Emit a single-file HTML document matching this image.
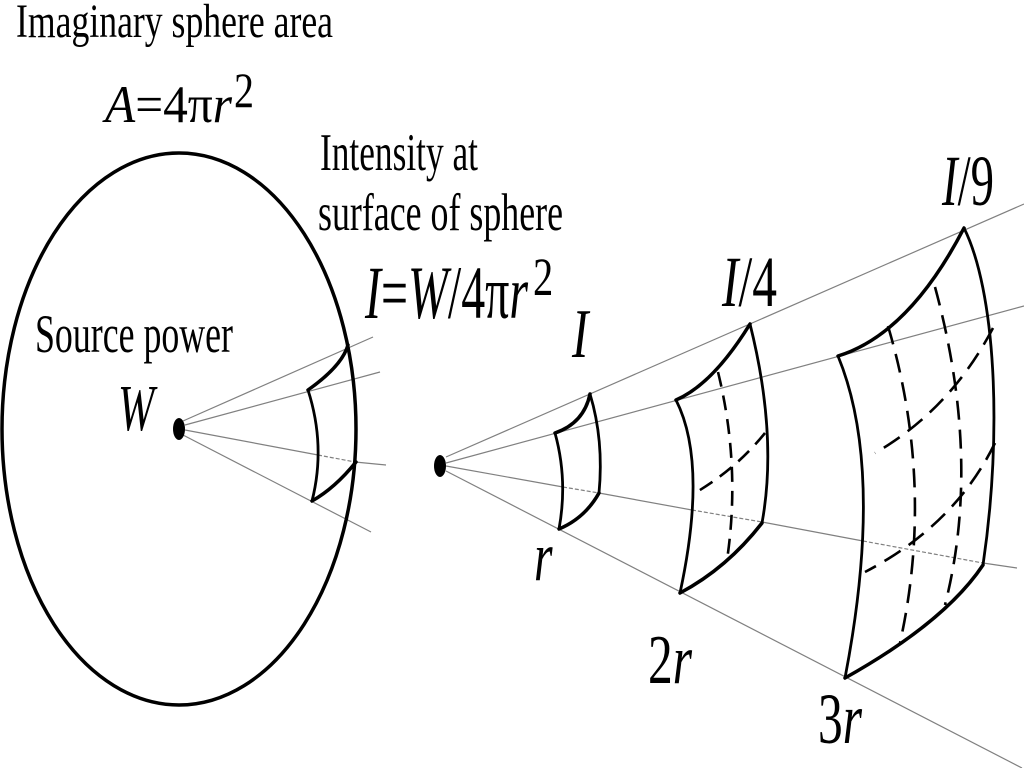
<!DOCTYPE html>
<html>
<head>
<meta charset="utf-8">
<style>
  html, body { margin: 0; padding: 0; background: #fff; }
  body { width: 1024px; height: 768px; overflow: hidden; }
  svg { display: block; }
  text { font-family: "Liberation Serif", "DejaVu Serif", serif; fill: #000; }
  .it { font-style: italic; }
</style>
</head>
<body>
<svg width="1024" height="768" viewBox="0 0 1024 768" xmlns="http://www.w3.org/2000/svg">
  <rect width="1024" height="768" fill="#fff"/>

  <!-- ===== Left: imaginary sphere ===== -->
  <g stroke="#808080" stroke-width="1.2" fill="none">
    <line x1="183" y1="421" x2="373" y2="337"/>
    <line x1="185" y1="425" x2="380" y2="372"/>
    <line x1="185" y1="430" x2="318" y2="455"/>
    <line x1="318" y1="455" x2="355" y2="462" stroke-dasharray="4 2"/>
    <line x1="355" y1="462" x2="386" y2="465"/>
    <line x1="183" y1="435" x2="371" y2="532"/>
  </g>
  <ellipse cx="179" cy="429" rx="177" ry="276" fill="none" stroke="#000" stroke-width="3.5"/>
  <ellipse cx="179" cy="429" rx="6" ry="11" fill="#000"/>
  <g fill="none" stroke="#000" stroke-linecap="round">
    <path d="M308,390 Q342,366 348,345" stroke-width="3.5"/>
    <path d="M308,390 Q326,446 312,501" stroke-width="2.8"/>
    <path d="M312,501 Q335,488 356,462" stroke-width="3.5"/>
  </g>

  <!-- ===== Right: fan ===== -->
  <g stroke="#808080" stroke-width="1.2" fill="none">
    <line x1="446" y1="457" x2="1024" y2="204"/>
    <line x1="446" y1="463" x2="1024" y2="306"/>
    <line x1="446" y1="466" x2="563" y2="487"/>
    <line x1="563" y1="487" x2="599" y2="493" stroke-dasharray="4 2"/>
    <line x1="599" y1="493" x2="692" y2="510"/>
    <line x1="692" y1="510" x2="762" y2="522" stroke-dasharray="4 2"/>
    <line x1="762" y1="522" x2="863" y2="541"/>
    <line x1="863" y1="541" x2="983" y2="563" stroke-dasharray="4 2"/>
    <line x1="983" y1="563" x2="1017" y2="568"/>
    <line x1="446" y1="471" x2="1022" y2="768"/>
  </g>
  <ellipse cx="440" cy="466" rx="6" ry="11" fill="#000"/>

  <!-- patch I (r) -->
  <g fill="none" stroke="#000" stroke-linecap="round" stroke-linejoin="round">
    <path d="M555,433 Q584,423 590,394" stroke-width="3.5"/>
    <path d="M590,394 Q604,440 599,493" stroke-width="2.8"/>
    <path d="M599,493 Q585,518 559,529" stroke-width="3.5"/>
    <path d="M559,529 Q568,480 555,433" stroke-width="2.8"/>
  </g>

  <!-- patch I/4 (2r) -->
  <g fill="none" stroke="#000" stroke-linecap="round" stroke-linejoin="round">
    <path d="M676,400 Q713,384 750,324" stroke-width="3.5"/>
    <path d="M750,324 Q778,436 762,523" stroke-width="2.8"/>
    <path d="M762,523 Q727,568 680,593" stroke-width="3.5"/>
    <path d="M680,593 Q708,463 676,400" stroke-width="2.8"/>
  </g>
  <g fill="none" stroke="#000" stroke-width="2.6" stroke-dasharray="15 9">
    <path d="M718,372 Q741,466 727,560"/>
    <path d="M765,433 Q736,469 695,493"/>
  </g>

  <!-- patch I/9 (3r) -->
  <g fill="none" stroke="#000" stroke-linecap="round" stroke-linejoin="round">
    <path d="M838,356 Q909,334 964,228" stroke-width="3.5"/>
    <path d="M964,228 C995,290 1003,430 983,565" stroke-width="2.8"/>
    <path d="M983,565 Q945,622 845,678" stroke-width="3.5"/>
    <path d="M845,678 Q885,470 838,356" stroke-width="2.8"/>
  </g>
  <g fill="none" stroke="#000" stroke-width="2.6" stroke-dasharray="19 10">
    <path d="M888,326 Q935,485 900,643"/>
    <path d="M935,287 Q982,460 945,605"/>
    <path d="M993,328 Q950,410 875,453"/>
    <path d="M995,443 Q955,525 865,572"/>
  </g>

  <!-- ===== Text ===== -->
  <text x="16" y="37" font-size="48" textLength="317" lengthAdjust="spacingAndGlyphs">Imaginary sphere area</text>

  <text x="105" y="122" font-size="53" textLength="127" lengthAdjust="spacingAndGlyphs"><tspan class="it">A</tspan>=4π<tspan class="it">r</tspan></text>
  <text transform="translate(234,107) scale(0.8,1)" font-size="50">2</text>

  <text x="320" y="170" font-size="53" textLength="158" lengthAdjust="spacingAndGlyphs">Intensity at</text>
  <text x="318" y="230" font-size="53" textLength="245" lengthAdjust="spacingAndGlyphs">surface of sphere</text>

  <text x="365" y="318" font-size="75" textLength="163" lengthAdjust="spacingAndGlyphs"><tspan class="it">I</tspan>=<tspan class="it">W</tspan>/4π<tspan class="it">r</tspan></text>
  <text transform="translate(533,295) scale(0.75,1)" font-size="54">2</text>

  <text x="35" y="352" font-size="54" textLength="198" lengthAdjust="spacingAndGlyphs">Source power</text>
  <text transform="translate(118,430) scale(0.66,1)" font-size="66" class="it">W</text>

  <text transform="translate(572,357) scale(0.7,1)" font-size="70" class="it">I</text>
  <text x="722" y="306" font-size="72" textLength="55" lengthAdjust="spacingAndGlyphs"><tspan class="it">I</tspan>/4</text>
  <text x="942" y="205" font-size="72" textLength="52" lengthAdjust="spacingAndGlyphs"><tspan class="it">I</tspan>/9</text>

  <text transform="translate(534,580) scale(0.68,1)" font-size="70" class="it">r</text>
  <text x="648" y="683" font-size="70" textLength="44" lengthAdjust="spacingAndGlyphs">2<tspan class="it">r</tspan></text>
  <text x="818" y="743" font-size="72" textLength="44" lengthAdjust="spacingAndGlyphs">3<tspan class="it">r</tspan></text>
</svg>
</body>
</html>
